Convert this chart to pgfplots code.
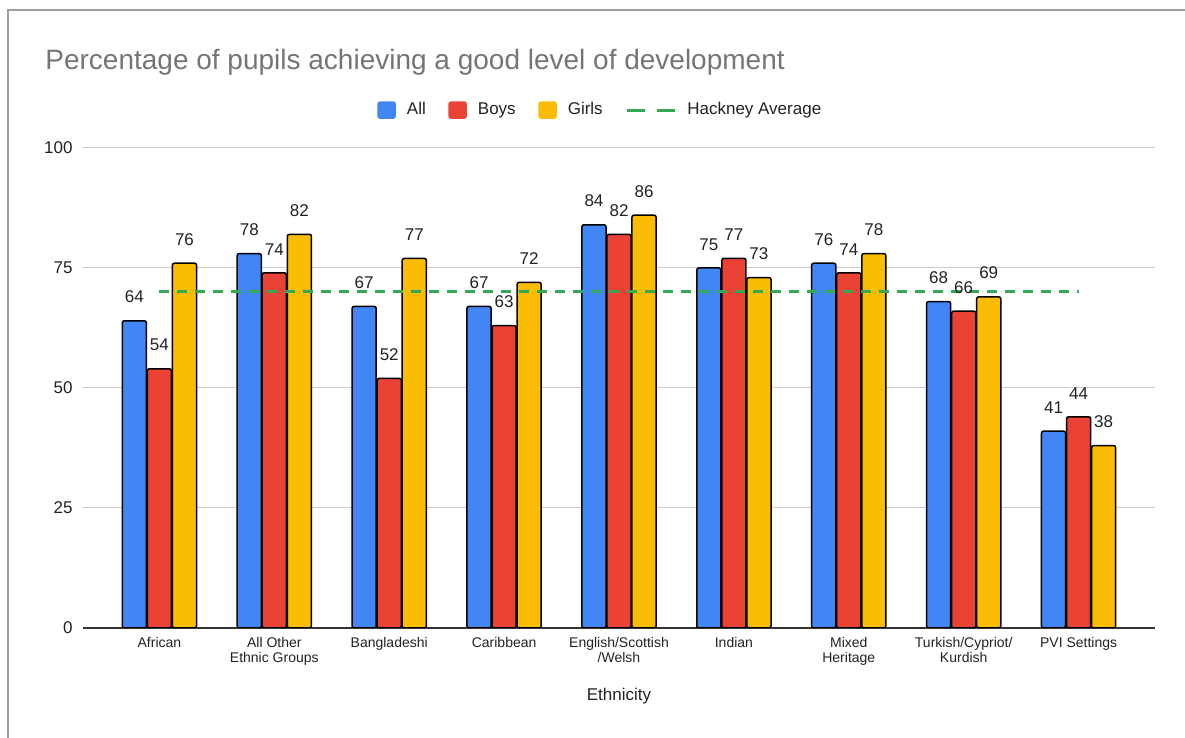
\documentclass[border=0pt]{standalone}
\usepackage{pgfplots}
\pgfplotsset{compat=1.18}
\usepackage{pgfplotstable}
\usepackage{fontspec}
\setmainfont{Liberation Sans}
\definecolor{cAll}{HTML}{4285F4}
\definecolor{cBoys}{HTML}{EA4335}
\definecolor{cGirls}{HTML}{FBBC04}
\definecolor{cAvg}{HTML}{34A853}
\definecolor{cTitle}{HTML}{757575}
\definecolor{cGrid}{HTML}{CCCCCC}
\definecolor{cFrame}{HTML}{9E9E9E}
\definecolor{cText}{HTML}{222222}

\pgfplotstableread{
x all boys girls
0 64 54 76
1 78 74 82
2 67 52 77
3 67 63 72
4 84 82 86
5 75 77 73
6 76 74 78
7 68 66 69
8 41 44 38
}\datatable
\pgfplotstableread{
x avg
0 70
8 70
}\avgtable

\begin{document}
\begin{tikzpicture}
\useasboundingbox (0,0) rectangle (592.5pt,369pt);
\draw[cFrame, line width=1pt] (4pt,0) -- (4pt,364pt) -- (592.5pt,364pt);
\node[anchor=base west, inner sep=0, font=\fontsize{14}{16}\selectfont, text=cTitle] at (22.5pt,334pt) {Percentage of pupils achieving a good level of development};
\begin{axis}[
  at={(41.5pt,55pt)}, anchor=south west, scale only axis,
  width=536pt, height=240pt,
  xmin=-0.665, xmax=8.665, ymin=0, ymax=100,
  ybar, bar width=0.21,
  /pgf/number format/assume math mode=true,
  axis x line*=bottom, axis y line*=left,
  x axis line style={draw=black!80, line width=0.6pt},
  y axis line style={draw=none},
  major tick length=0pt,
  ytick={0,25,50,75,100},
  ymajorgrids, grid style={cGrid, line width=0.5pt},
  xtick={0,...,8},
  xticklabels={African,{All Other\\Ethnic Groups},Bangladeshi,Caribbean,{English/Scottish\\/Welsh},Indian,{Mixed\\Heritage},{Turkish/Cypriot/\\Kurdish},PVI Settings},
  xticklabel style={align=center, font=\fontsize{7}{7.5}\selectfont, text=cText, inner sep=0pt, yshift=-4.5pt},
  yticklabel style={font=\fontsize{8.5}{10}\selectfont, text=cText, inner sep=0pt, xshift=-5pt},
  xlabel={Ethnicity},
  xlabel style={font=\fontsize{8.5}{10}\selectfont, text=cText, at={(axis description cs:0.5,-0.1417)}, anchor=center},
  nodes near coords style={font=\fontsize{8.5}{10}\selectfont, text=cText, inner sep=0pt, anchor=south, yshift=8.5pt},
  legend columns=4,
  legend style={draw=none, fill=none, at={(0.4835,1.079)}, anchor=center,
    font=\fontsize{8.5}{10}\selectfont, text=cText,
    /tikz/every odd column/.append style={column sep=3.5pt},
    /tikz/every even column/.append style={column sep=9.3pt}},
  legend cell align=left,
]
\addplot[fill=cAll, draw=black, line width=0.75pt, rounded corners=1pt, bar shift=-0.218, nodes near coords,
  legend image code/.code={\fill[cAll, rounded corners=1pt] (0pt,-4pt) rectangle (8.5pt,4pt);}]
  table[x=x, y=all] {\datatable};
\addlegendentry{All}
\addplot[fill=cBoys, draw=black, line width=0.75pt, rounded corners=1pt, bar shift=0, nodes near coords,
  legend image code/.code={\fill[cBoys, rounded corners=1pt] (0pt,-4pt) rectangle (8.5pt,4pt);}]
  table[x=x, y=boys] {\datatable};
\addlegendentry{Boys}
\addplot[fill=cGirls, draw=black, line width=0.75pt, rounded corners=1pt, bar shift=0.218, nodes near coords,
  legend image code/.code={\fill[cGirls, rounded corners=1pt] (0pt,-4pt) rectangle (8.5pt,4pt);}]
  table[x=x, y=girls] {\datatable};
\addlegendentry{Girls}
\addplot[sharp plot, draw=cAvg, line width=1.5pt, dash pattern=on 5pt off 4pt, mark=none,
  legend image code/.code={\draw[cAvg, line width=1.5pt, dash pattern=on 9pt off 6pt] (0pt,0pt) -- (24pt,0pt);}]
  table[x=x, y=avg] {\avgtable};
\addlegendentry{Hackney Average}
\end{axis}
\end{tikzpicture}
\end{document}
